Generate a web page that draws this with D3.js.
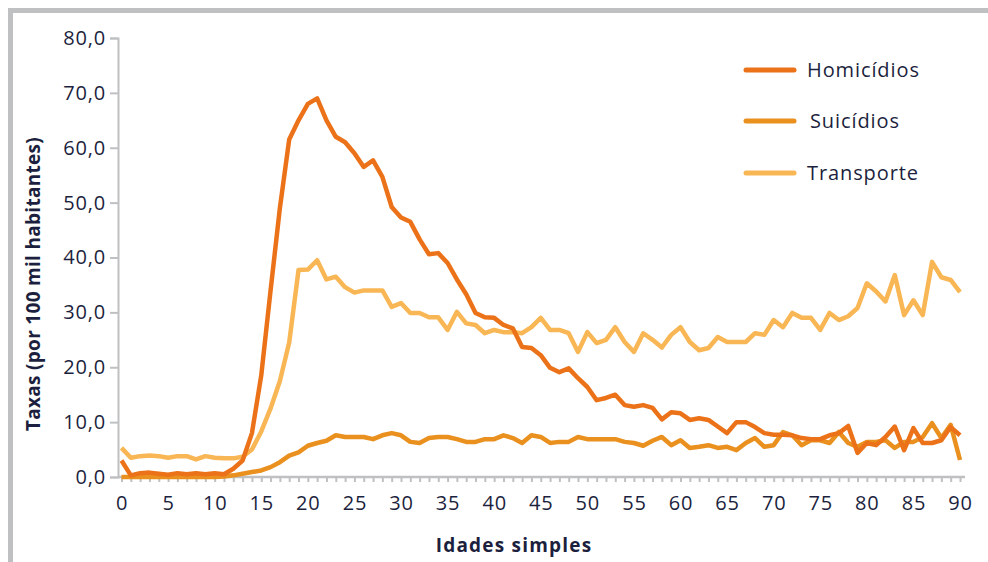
<!DOCTYPE html>
<html>
<head>
<meta charset="utf-8">
<script src="https://cdn.jsdelivr.net/npm/d3@7"></script>
<style>
    body { margin: 0; background: #fff; }
    text { font-family: "Open Sans", sans-serif; fill: #1c1f3d; }
</style>
</head>
<body>
<div id="chart"></div>
<script>
// Ages 0..90
let ages = d3.range(0, 91)

let homicidios = [
    3.0, 0.3, 0.7, 0.8, 0.6, 0.4, 0.7, 0.5, 0.7, 0.5,
    0.7, 0.5, 1.5, 3.0, 8.0, 18.5, 34.0, 49.0, 61.5, 65.0,
    68.0, 69.0, 65.0, 62.0, 61.0, 59.0, 56.5, 57.7, 54.7, 49.2,
    47.3, 46.5, 43.3, 40.6, 40.8, 39.0, 36.0, 33.3, 29.9, 29.1,
    29.0, 27.7, 27.1, 23.7, 23.5, 22.2, 19.9, 19.1, 19.8, 18.0,
    16.4, 14.0, 14.4, 15.0, 13.1, 12.8, 13.1, 12.6, 10.5, 11.8,
    11.6, 10.4, 10.7, 10.4, 9.2, 8.0, 10.0, 10.0, 9.1, 8.0,
    7.7, 7.7, 7.6, 7.1, 6.9, 6.9, 7.6, 8.0, 9.3, 4.4,
    6.2, 5.8, 7.3, 9.2, 4.9, 8.9, 6.2, 6.2, 6.7, 9.1,
    7.6
]

let suicidios = [
    0.0, 0.0, 0.0, 0.0, 0.0, 0.0, 0.0, 0.0, 0.0, 0.0,
    0.0, 0.1, 0.3, 0.6, 0.9, 1.2, 1.8, 2.7, 3.9, 4.5,
    5.7, 6.2, 6.6, 7.6, 7.3, 7.3, 7.3, 6.9, 7.6, 8.0,
    7.6, 6.4, 6.2, 7.1, 7.3, 7.3, 6.9, 6.4, 6.4, 6.9,
    6.9, 7.6, 7.1, 6.2, 7.6, 7.3, 6.2, 6.4, 6.4, 7.3,
    6.9, 6.9, 6.9, 6.9, 6.4, 6.2, 5.7, 6.6, 7.3, 5.8,
    6.7, 5.3, 5.5, 5.8, 5.3, 5.5, 4.9, 6.2, 7.1, 5.5,
    5.8, 8.2, 7.6, 5.8, 6.7, 6.7, 6.2, 8.2, 6.2, 5.5,
    6.4, 6.4, 6.7, 5.3, 6.4, 6.4, 7.3, 9.8, 7.1, 9.5,
    3.1
]

let transporte = [
    5.3, 3.5, 3.8, 3.9, 3.8, 3.5, 3.8, 3.8, 3.2, 3.8,
    3.5, 3.4, 3.4, 3.7, 5.0, 8.3, 12.5, 17.5, 24.5, 37.7,
    37.8, 39.5, 36.0, 36.5, 34.6, 33.6, 34.0, 34.0, 34.0, 31.0,
    31.7, 29.9, 29.9, 29.1, 29.1, 26.8, 30.1, 28.0, 27.7, 26.2,
    26.8, 26.4, 26.4, 26.2, 27.3, 29.0, 26.8, 26.8, 26.2, 22.8,
    26.4, 24.4, 25.0, 27.3, 24.6, 22.8, 26.2, 25.0, 23.6, 25.9,
    27.3, 24.6, 23.1, 23.5, 25.5, 24.6, 24.6, 24.6, 26.2, 25.9,
    28.6, 27.3, 29.9, 29.0, 29.0, 26.8, 29.9, 28.6, 29.3, 30.8,
    35.3, 33.8, 32.0, 36.8, 29.5, 32.2, 29.5, 39.2, 36.4, 35.9,
    33.7
]

let seriesNames = ["Homicídios", "Suicídios", "Transporte"]
let seriesColors = ["#ec7219", "#e9901f", "#f9b654"]
let yTicks = [0, 10, 20, 30, 40, 50, 60, 70, 80]
let xTicks = [0, 5, 10, 15, 20, 25, 30, 35, 40, 45, 50, 55, 60, 65, 70, 75, 80, 85, 90]

let series = [homicidios, suicidios, transporte].map((vals, i) => ({
    name: seriesNames[i],
    color: seriesColors[i],
    values: vals.map((v, j) => ({age: ages[j], value: v}))
}))

let width = 988, height = 562
let axisGray = "#bfc0c2"
let textColor = "#1c1f3d"

let svg = d3.select("#chart").append("svg")
    .attr("width", width)
    .attr("height", height)

// Panel border (top and left only, as in the source)
svg.append("rect")
    .attr("x", 8).attr("y", 8)
    .attr("width", width - 8).attr("height", 5)
    .attr("fill", axisGray)
svg.append("rect")
    .attr("x", 8).attr("y", 8)
    .attr("width", 5).attr("height", height - 8)
    .attr("fill", axisGray)

// Scales
let x = d3.scaleLinear()
    .domain([0, 90])
    .range([121.5, 960])

let y = d3.scaleLinear()
    .domain([0, 80])
    .range([477, 38])

let fmt = d => d3.format(".1f")(d).replace(".", ",")

// Y axis
let yAxis = svg.append("g")
    .attr("transform", "translate(118,0)")
    .call(d3.axisLeft(y).tickValues(yTicks).tickFormat(fmt).tickSize(8).tickPadding(4))
yAxis.select(".domain").attr("stroke", axisGray).attr("stroke-width", 2)
yAxis.selectAll(".tick line").attr("stroke", axisGray).attr("stroke-width", 2)
yAxis.selectAll(".tick text")
    .attr("font-size", 20)
    .attr("letter-spacing", 0.8)
    .attr("font-family", "Open Sans")
    .attr("fill", textColor)

// X axis: minor ticks every year, labels every 5
let xAxis = svg.append("g")
    .attr("transform", "translate(0,477)")
    .call(d3.axisBottom(x).tickValues(ages).tickFormat(d => xTicks.includes(d) ? d : "").tickSize(5).tickPadding(14))
xAxis.select(".domain")
    .attr("d", "M118,0H965")
    .attr("stroke", axisGray).attr("stroke-width", 2.5)
xAxis.selectAll(".tick line").attr("stroke", axisGray).attr("stroke-width", 2)
xAxis.selectAll(".tick text")
    .attr("font-size", 20)
    .attr("letter-spacing", 0.8)
    .attr("font-family", "Open Sans")
    .attr("fill", textColor)

// Lines
let line = d3.line()
    .x(d => x(d.age))
    .y(d => y(d.value))

// draw transport first so homicides sit on top
series.slice().reverse().forEach(s => {
    svg.append("path")
        .datum(s.values)
        .attr("fill", "none")
        .attr("stroke", s.color)
        .attr("stroke-width", 4.5)
        .attr("stroke-linejoin", "round")
        .attr("d", line)
})

// Axis titles
svg.append("text")
    .text("Idades simples")
    .attr("x", 514)
    .attr("y", 552)
    .attr("text-anchor", "middle")
    .attr("font-size", 19)
    .attr("letter-spacing", 1.2)
    .attr("font-weight", "bold")

svg.append("text")
    .text("Taxas (por 100 mil habitantes)")
    .attr("transform", "translate(40,284) rotate(-90)")
    .attr("text-anchor", "middle")
    .attr("font-size", 19)
    .attr("letter-spacing", 0.3)
    .attr("font-weight", "bold")

// Legend
let legendY = [70, 121, 173]
let legend = svg.append("g")
series.forEach((s, i) => {
    legend.append("line")
        .attr("x1", 746).attr("x2", 794)
        .attr("y1", legendY[i]).attr("y2", legendY[i])
        .attr("stroke", s.color)
        .attr("stroke-width", 5)
        .attr("stroke-linecap", "round")
    legend.append("text")
        .text(s.name)
        .attr("x", i === 1 ? 810 : 807)
        .attr("y", legendY[i])
        .attr("dy", "0.35em")
        .attr("font-size", 20)
        .attr("letter-spacing", 0.9)
})
</script>
</body>
</html>
